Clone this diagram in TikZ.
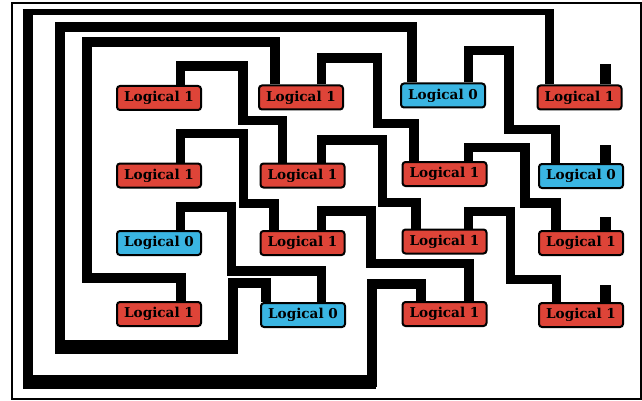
\documentclass[tikz,border=0pt]{standalone}
\usepackage{fontspec}
\setmainfont{DejaVu Serif}
\usetikzlibrary{calc}
\definecolor{boxred}{RGB}{222,68,56}
\definecolor{boxblue}{RGB}{58,181,226}
\pgfdeclarelayer{wires}
\pgfsetlayers{wires,main}
\tikzset{
  gate/.style={draw=black, line width=2pt, rounded corners=3pt, minimum width=84pt,
    minimum height=24pt, inner sep=0pt, font=\fontsize{13.6}{15}\selectfont\bfseries},
  one/.style={gate, fill=boxred},
  zero/.style={gate, fill=boxblue},
  wire/.style={line width=9.5pt, line join=miter, line cap=butt},
  loopwire/.style={line width=10pt, line join=miter, line cap=butt},
  stub/.style={line width=11pt, line cap=butt}
}
\begin{document}
\begin{tikzpicture}[x=1pt,y=-1pt]
\useasboundingbox (0,0) rectangle (642,401);
\draw[line width=1.5pt] (12,3) rectangle (641,399);
% boxes
\node[one]  (r1c1) at (159,98)    {Logical 1};
\node[one]  (r1c2) at (301,97.5)  {Logical 1};
\node[zero] (r1c3) at (443,95.5)  {Logical 0};
\node[one]  (r1c4) at (579.5,97.5){Logical 1};
\node[one]  (r2c1) at (159,175.5) {Logical 1};
\node[one]  (r2c2) at (302.5,175.5){Logical 1};
\node[one]  (r2c3) at (444.5,174) {Logical 1};
\node[zero] (r2c4) at (581,176)   {Logical 0};
\node[zero] (r3c1) at (159,243)   {Logical 0};
\node[one]  (r3c2) at (302.5,243) {Logical 1};
\node[one]  (r3c3) at (444.5,241.5){Logical 1};
\node[one]  (r3c4) at (581,243)   {Logical 1};
\node[one]  (r4c1) at (159,314)   {Logical 1};
\node[zero] (r4c2) at (303,315)   {Logical 0};
\node[one]  (r4c3) at (444.5,314) {Logical 1};
\node[one]  (r4c4) at (581,315)   {Logical 1};
\coordinate (atop) at (549.5,9);
\begin{pgfonlayer}{wires}
% diagonal chains
\draw[wire] ($(r1c1.north)+(21.5,0)$) |- (243,66) -- (243,120.5) -| ($(r2c2.north)+(-20,0)$);
\draw[wire] ($(r1c2.north)+(20.5,0)$) |- (377.5,58) -- (377.5,123.5) -| ($(r2c3.north)+(-30.5,0)$);
\draw[wire] ($(r1c3.north)+(25.5,0)$) |- (509,50.5) -- (509,129.5) -| ($(r2c4.north)+(-25.5,0)$);
\draw[wire] ($(r2c1.north)+(21.5,0)$) |- (243.5,133.5) -- (243.5,203.5) -| ($(r3c2.north)+(-28.5,0)$);
\draw[wire] ($(r2c2.north)+(19,0)$) |- (382.5,140) -- (382.5,202.5) -| ($(r3c3.north)+(-28.5,0)$);
\draw[wire] ($(r2c3.north)+(24,0)$) |- (525,147.5) -- (525,203) -| ($(r3c4.north)+(-25,0)$);
\draw[wire] ($(r3c1.north)+(21.5,0)$) |- (231.5,207) -- (231.5,271) -| ($(r4c2.north)+(18.5,0)$);
\draw[wire] ($(r3c2.north)+(19,0)$) |- (371,211) -- (371,263.5) -| ($(r4c3.north)+(24.5,0)$);
\draw[wire] ($(r3c3.north)+(24,0)$) |- (510.5,211.5) -- (510.5,279.5) -| ($(r4c4.north)+(-24.5,0)$);
% outer loops
\draw[line width=9pt] ($(r1c4.north)+(-30,0)$) -- (atop);
\draw[line width=6.5pt] (22.5,12) -- (554,12);
\draw[loopwire] (27.5,9) -- (27.5,382) -- (372,382) -- (372,284) -| ($(r4c3.north)+(-23.5,0)$);
\fill (23,375) rectangle (376,389);
\draw[loopwire] ($(r1c3.north)+(-31,0)$) |- (60,27.5) -- (60,347) -- (232.5,347) -- (232.5,283) -| ($(r4c2.north)+(-37.5,0)$);
\fill (54.5,340) rectangle (237.5,354);
\draw[loopwire] ($(r1c2.north)+(-26,0)$) |- (87,42.5) -- (87,278) -| ($(r4c1.north)+(21.5,0)$);
% open ends
\draw[stub] ($(r1c4.north)+(26,0)$) -- ++(0,-20);
\draw[stub] ($(r2c4.north)+(24.5,0)$) -- ++(0,-18);
\draw[stub] ($(r3c4.north)+(24.5,0)$) -- ++(0,-13);
\draw[stub] ($(r4c4.north)+(24.5,0)$) -- ++(0,-17);
\end{pgfonlayer}
\end{tikzpicture}
\end{document}
